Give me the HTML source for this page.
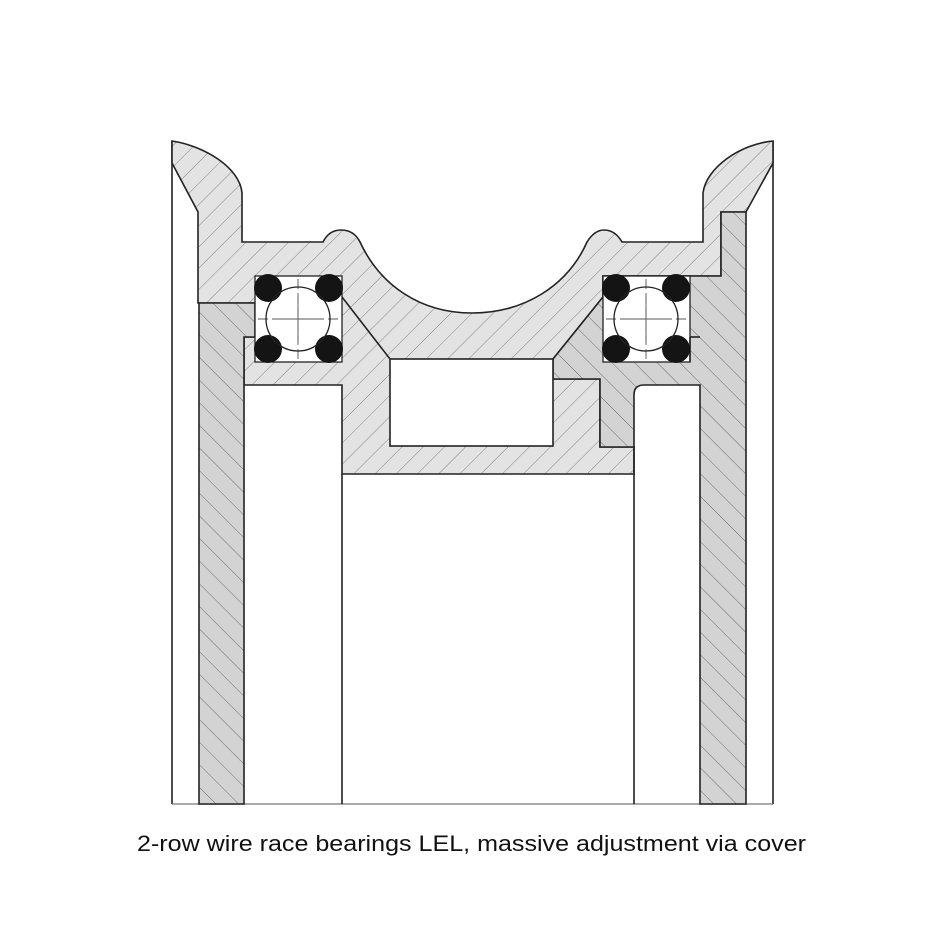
<!DOCTYPE html>
<html><head><meta charset="utf-8"><style>
html,body{margin:0;padding:0;background:#fff;}
svg{display:block;}
</style></head><body>
<svg width="945" height="945" viewBox="0 0 945 945" xmlns="http://www.w3.org/2000/svg">
<defs>
<pattern id="hl" patternUnits="userSpaceOnUse" width="15" height="15" patternTransform="rotate(45)">
<rect width="15" height="15" fill="#e3e3e3"/>
<line x1="0" y1="0" x2="0" y2="15" stroke="#6a6a6a" stroke-width="0.8"/>
</pattern>
<pattern id="hg" patternUnits="userSpaceOnUse" width="16" height="16" patternTransform="rotate(-45)">
<rect width="16" height="16" fill="#d2d3d2"/>
<line x1="0" y1="0" x2="0" y2="16" stroke="#555" stroke-width="0.8"/>
</pattern>
</defs>
<g stroke="#222" stroke-width="1.6" stroke-linejoin="miter">
<!-- outer white strips -->
<line x1="172" y1="141" x2="172" y2="804"/>
<line x1="773" y1="141" x2="773" y2="804"/>
<line x1="172" y1="804" x2="773" y2="804" stroke="#777" stroke-width="1.2"/>
<!-- hub -->
<path fill="url(#hl)" d="M172,141 C205,146 240,168 242,193 L242,242 L323,242 C328,232 335,230 341,230 C350,230 356,234 360,242 C380,285 420,313 472,313 C525,313 568,285 587,242 C592,234 598,230 604,230 C612,230 618,235 622,242 L703,242 L703,193 C706,168 740,144 773,141 L773,163 L746,212 L721,212 L721,276 L603,276 L603,297 L553,359 L553,379 L600,379 L600,447 L634,447 L634,474 L342,474 L342,385 L244,385 L244,337 L255,337 L255,303 L198,303 L198,212 L172,163 Z"/>
<!-- gray left -->
<path fill="url(#hg)" d="M199,303 L255,303 L255,337 L244,337 L244,804 L199,804 Z"/>
<!-- gray right -->
<path fill="url(#hg)" d="M553,359 L603,297 L603,276 L721,276 L721,212 L746,212 L746,804 L700,804 L700,385 L644,385 Q634,385 634,395 L634,447 L600,447 L600,379 L553,379 Z"/>
<!-- window -->
<rect x="390" y="359" width="163" height="87" fill="#fff"/>
<line x1="342" y1="297" x2="390" y2="359"/>
<line x1="342" y1="474" x2="342" y2="804"/>
<line x1="634" y1="447" x2="634" y2="804"/>
<!-- bearing boxes -->
<rect x="255" y="276" width="87" height="86" fill="#fff" stroke-width="1.3"/>
<rect x="603" y="276" width="87" height="86" fill="#fff" stroke-width="1.3"/>
<line x1="690" y1="337" x2="700" y2="337"/>
<line x1="690" y1="337" x2="690" y2="362"/>
</g>
<g stroke="#555" stroke-width="0.9" stroke-dasharray="10,4">
<line x1="258" y1="319" x2="339" y2="319"/><line x1="298" y1="279" x2="298" y2="359"/>
<line x1="606" y1="319" x2="687" y2="319"/><line x1="646" y1="279" x2="646" y2="359"/>
</g>
<g fill="#141414">
<circle cx="268" cy="288" r="14"/><circle cx="329" cy="288" r="14"/>
<circle cx="268" cy="349" r="14"/><circle cx="329" cy="349" r="14"/>
<circle cx="616" cy="288" r="14"/><circle cx="676" cy="288" r="14"/>
<circle cx="616" cy="349" r="14"/><circle cx="676" cy="349" r="14"/>
</g>
<g fill="none" stroke="#222" stroke-width="1.3">
<circle cx="298" cy="319" r="32"/><circle cx="646" cy="319" r="32"/>
</g>
<g stroke="#555" stroke-width="0.9">
<line x1="275" y1="319" x2="321" y2="319"/><line x1="298" y1="296" x2="298" y2="342"/>
<line x1="623" y1="319" x2="669" y2="319"/><line x1="646" y1="296" x2="646" y2="342"/>
</g>
<text x="137" y="851" font-family="Liberation Sans, Arial, sans-serif" font-size="22" fill="#111" textLength="669" lengthAdjust="spacingAndGlyphs">2-row wire race bearings LEL, massive adjustment via cover</text>
</svg>
</body></html>
